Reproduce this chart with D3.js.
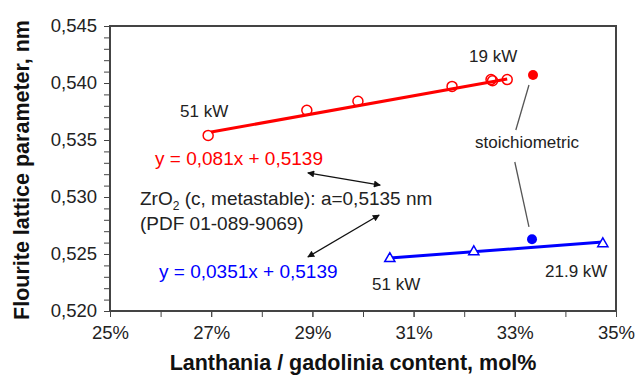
<!DOCTYPE html>
<html><head><meta charset="utf-8">
<script src="https://cdn.jsdelivr.net/npm/d3@7"></script>
<style>
html,body{margin:0;padding:0;background:#fff;}
svg{display:block;font-family:"Liberation Sans",Arial,sans-serif;}
</style></head>
<body><svg id="c" width="636" height="379"></svg>
<script>
// ---- data ----
const redX = [0.2694, 0.2889, 0.2990, 0.3176, 0.3253, 0.3256, 0.3285];
const redY = [0.5354, 0.5376, 0.5384, 0.5397, 0.5403, 0.5402, 0.5403];
const redFilled = [[0.3336, 0.5407]];
const blueX = [0.3053, 0.3219, 0.3474];
const blueY = [0.5246, 0.5252, 0.5259];
const blueFilled = [[0.3334, 0.5263]];
const redFitX = [0.2700, 0.3285];
const redFitY = [0.5357, 0.54035];
const blueFitX = [0.3053, 0.3474];
const blueFitY = [0.52465, 0.52605];
const xTickLabels = [0.25, 0.27, 0.29, 0.31, 0.33, 0.35];
const yTickLabels = [0.520, 0.525, 0.530, 0.535, 0.540, 0.545];

const svg = d3.select("#c");
const L = 110, R = 616, T = 26, B = 311;
const x = d3.scaleLinear().domain([0.25, 0.35]).range([L, R]);
const y = d3.scaleLinear().domain([0.520, 0.545]).range([B, T]);
const loc = d3.formatLocale({decimal: ",", thousands: ".", grouping: [3], currency: ["", ""]});
const fy = loc.format(".3f");
const txtCol = "#222";
const axCol = "#444";

// minor ticks
const yMinor = d3.range(0, 26).map(i => +(0.520 + i * 0.001).toFixed(3));
const xMinor = d3.range(0, 11).map(i => +(0.25 + i * 0.01).toFixed(2));

const gy = svg.append("g").attr("transform", `translate(${L},0)`)
  .call(d3.axisLeft(y).tickValues(yMinor).tickSize(6).tickFormat(""));
gy.select(".domain").remove();
gy.selectAll("line").attr("stroke", axCol).attr("stroke-width", 1);
const gy2 = svg.append("g").attr("transform", `translate(${L},0)`)
  .call(d3.axisLeft(y).tickValues(yTickLabels).tickSize(6).tickPadding(7).tickFormat(fy));
gy2.select(".domain").remove();
gy2.selectAll("line").attr("stroke", axCol);
gy2.selectAll("text").attr("font-size", "18.5px").attr("fill", txtCol).attr("font-family", "Liberation Sans, Arial, sans-serif");

const gx = svg.append("g").attr("transform", `translate(0,${B})`)
  .call(d3.axisBottom(x).tickValues(xMinor).tickSize(6).tickFormat(""));
gx.select(".domain").remove();
gx.selectAll("line").attr("stroke", axCol);
const gx2 = svg.append("g").attr("transform", `translate(0,${B})`)
  .call(d3.axisBottom(x).tickValues(xTickLabels).tickSize(6).tickPadding(9).tickFormat(d3.format(".0%")));
gx2.select(".domain").remove();
gx2.selectAll("line").attr("stroke", axCol);
gx2.selectAll("text").attr("font-size", "18.5px").attr("fill", txtCol).attr("font-family", "Liberation Sans, Arial, sans-serif");

// frame
svg.append("rect").attr("x", L).attr("y", T).attr("width", R - L).attr("height", B - T)
  .attr("fill", "none").attr("stroke", axCol).attr("stroke-width", 2);

// axis titles
svg.append("text").attr("x", 353).attr("y", 370).attr("text-anchor", "middle")
  .attr("font-size", "21.5px").attr("font-weight", "bold").attr("fill", "#111")
  .text("Lanthania / gadolinia content, mol%");
svg.append("text").attr("transform", "translate(29,170) rotate(-90)").attr("text-anchor", "middle")
  .attr("font-size", "21.5px").attr("font-weight", "bold").attr("fill", "#111")
  .text("Flourite lattice parameter, nm");

// fit lines
const line = d3.line().x(d => x(d[0])).y(d => y(d[1]));
svg.append("path").datum(d3.zip(redFitX, redFitY)).attr("d", line)
  .attr("stroke", "#ff0000").attr("stroke-width", 3).attr("fill", "none");
svg.append("path").datum(d3.zip(blueFitX, blueFitY)).attr("d", line)
  .attr("stroke", "#0000ff").attr("stroke-width", 3).attr("fill", "none");

// markers
svg.selectAll(".rc").data(d3.zip(redX, redY)).enter().append("circle")
  .attr("cx", d => x(d[0])).attr("cy", d => y(d[1])).attr("r", 5)
  .attr("fill", "none").attr("stroke", "#ff0000").attr("stroke-width", 1.5);
const tri = d3.symbol().type(d3.symbolTriangle).size(45);
svg.selectAll(".bt").data(d3.zip(blueX, blueY)).enter().append("path")
  .attr("d", tri).attr("transform", d => `translate(${x(d[0])},${y(d[1])})`)
  .attr("fill", "#fff").attr("stroke", "#0000ff").attr("stroke-width", 1.5);
svg.selectAll(".rf").data(redFilled).enter().append("circle")
  .attr("cx", d => x(d[0])).attr("cy", d => y(d[1])).attr("r", 5).attr("fill", "#ff0000");
svg.selectAll(".bf").data(blueFilled).enter().append("circle")
  .attr("cx", d => x(d[0])).attr("cy", d => y(d[1])).attr("r", 5).attr("fill", "#0000ff");

// leader lines (gray)
const leaders = [[[0.3328, 0.53982], [0.3302, 0.53588]], [[0.3300, 0.53307], [0.3328, 0.52737]]];
leaders.forEach(s => svg.append("line")
  .attr("x1", x(s[0][0])).attr("y1", y(s[0][1])).attr("x2", x(s[1][0])).attr("y2", y(s[1][1]))
  .attr("stroke", "#555").attr("stroke-width", 1.3));

// double arrows
const defs = svg.append("defs");
["s", "e"].forEach(k => defs.append("marker").attr("id", "ah" + k)
  .attr("viewBox", "0 0 10 10").attr("refX", 9).attr("refY", 5)
  .attr("markerWidth", 9).attr("markerHeight", 7).attr("markerUnits", "userSpaceOnUse")
  .attr("orient", "auto-start-reverse")
  .append("path").attr("d", "M0,0 L10,5 L0,10 Z").attr("fill", "#111"));
const arrows = [[[0.2891, 0.53211], [0.3034, 0.53105]], [[0.3032, 0.52842], [0.2891, 0.52474]]];
arrows.forEach(a => svg.append("line")
  .attr("x1", x(a[0][0])).attr("y1", y(a[0][1])).attr("x2", x(a[1][0])).attr("y2", y(a[1][1]))
  .attr("stroke", "#111").attr("stroke-width", 1.3)
  .attr("marker-start", "url(#ahs)").attr("marker-end", "url(#ahe)"));

// text annotations
function t(xp, yp, s, size, col, anchor) {
  return svg.append("text").attr("x", xp).attr("y", yp).attr("font-size", size + "px")
    .attr("fill", col).attr("text-anchor", anchor || "start").text(s);
}
t(180, 117, "51 kW", 17, txtCol);
t(469, 62, "19 kW", 17, txtCol);
t(475, 148, "stoichiometric", 17, txtCol);
t(372, 290, "51 kW", 17, txtCol);
t(545, 277, "21.9 kW", 17, txtCol);
t(155, 165, "y = 0,081x + 0,5139", 19, "#ff0000");
t(159, 278, "y = 0,0351x + 0,5139", 19, "#0000ff");
const z = t(140, 205, "", 19, txtCol);
z.append("tspan").text("ZrO");
z.append("tspan").attr("font-size", "12px").attr("dy", 5).text("2");
z.append("tspan").attr("dy", -5).text(" (c, metastable): a=0,5135 nm");
t(140, 230, "(PDF 01-089-9069)", 19, txtCol);
</script></body></html>
